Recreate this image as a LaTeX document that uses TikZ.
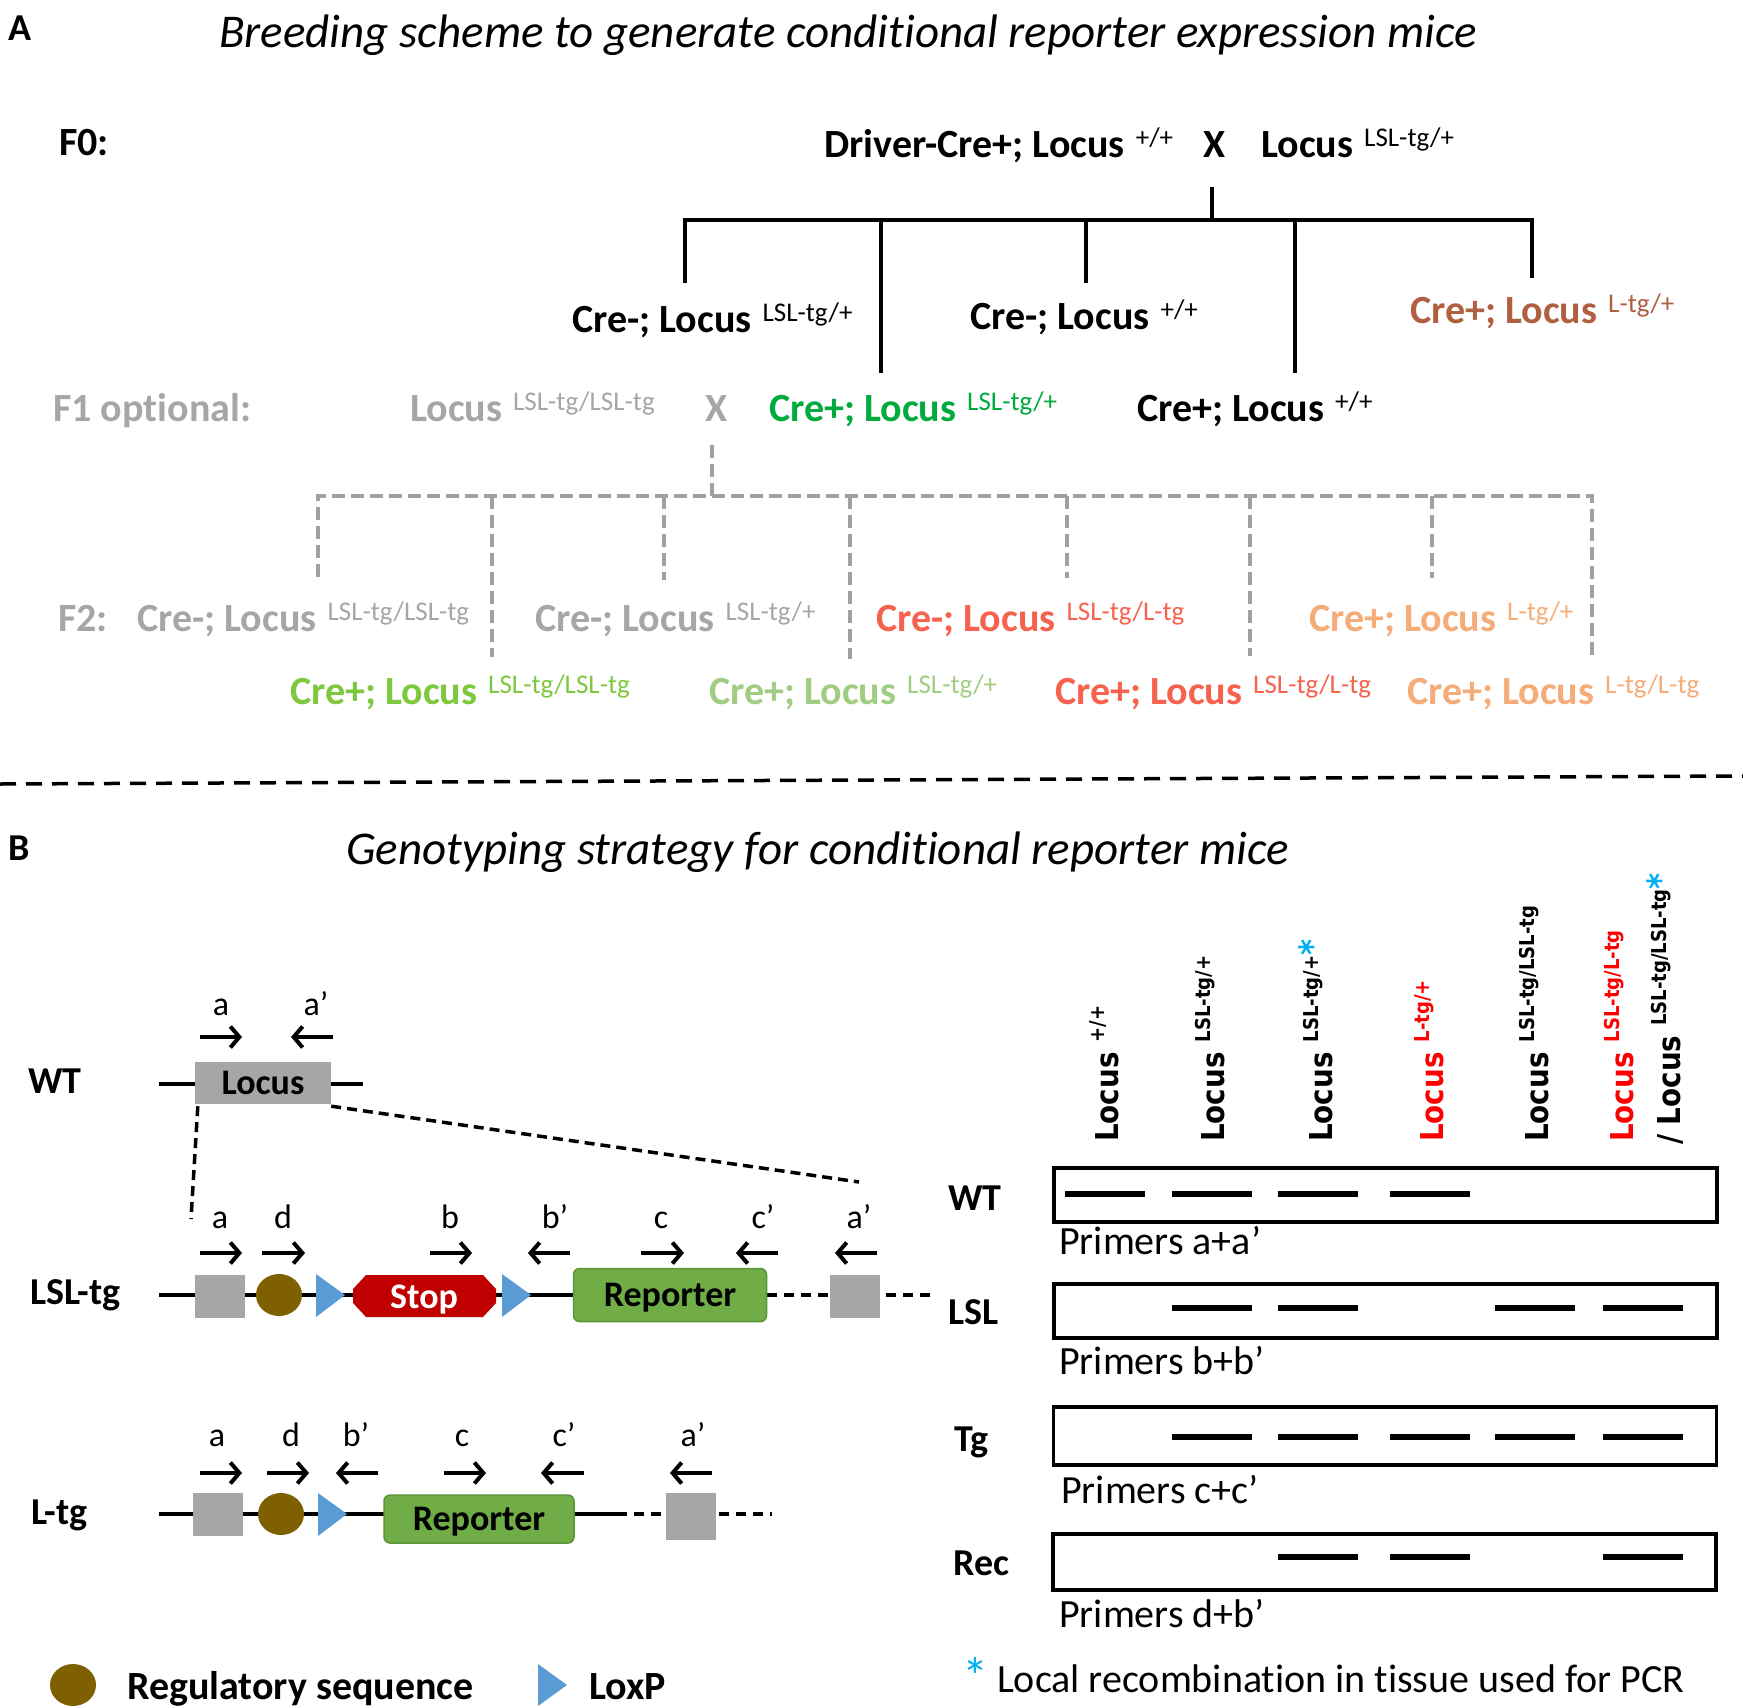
\documentclass[tikz,border=0pt]{standalone}
\usepackage{fontspec}
\setmainfont{Carlito}[Ligatures=NoCommon]
\newfontfamily\dvs{DejaVu Sans}[FakeStretch=0.88]
\usetikzlibrary{arrows.meta,shapes.geometric}
\definecolor{gtxt}{RGB}{166,166,166}
\definecolor{grn}{RGB}{0,170,60}
\definecolor{brn}{RGB}{176,96,64}
\definecolor{lime}{RGB}{125,200,60}
\definecolor{pgrn}{RGB}{160,205,130}
\definecolor{salm}{RGB}{246,98,78}
\definecolor{lorg}{RGB}{246,172,120}
\definecolor{gline}{RGB}{160,160,160}
\definecolor{loxb}{RGB}{91,155,213}
\definecolor{regb}{RGB}{127,96,0}
\definecolor{stopr}{RGB}{192,0,0}
\definecolor{repg}{RGB}{112,173,71}
\definecolor{repd}{RGB}{90,150,55}
\definecolor{boxg}{RGB}{166,166,166}
\definecolor{astb}{RGB}{0,176,240}
\newcommand{\gen}[2]{#1\hspace{11pt}\raisebox{11pt}{\fontsize{27}{30}\selectfont\mdseries #2}}
\newcommand{\vgen}[2]{#1\hspace{10pt}\raisebox{14pt}{\fontsize{20.5}{24}\selectfont #2}}
\newcommand{\bast}{\textcolor{astb}{\raisebox{-6pt}{\scalebox{1.7}{*}}}}
\begin{document}
\begin{tikzpicture}[x=1pt,y=-1pt,
  gl/.style={anchor=base west, inner sep=0pt, font=\fontsize{40}{48}\selectfont\bfseries},
  ttl/.style={anchor=base west, inner sep=0pt, font=\fontsize{47}{54}\selectfont\itshape},
  treeline/.style={line width=4pt},
  dtreeline/.style={line width=4pt, draw=gline, dash pattern=on 13pt off 6pt},
  sepline/.style={line width=3.5pt, dash pattern=on 16pt off 10pt},
  dnaline/.style={line width=4.5pt},
  dnadash/.style={line width=4.5pt, dash pattern=on 10pt off 7pt},
  zoomdash/.style={line width=3.5pt, dash pattern=on 10pt off 6pt},
  primer/.style={line width=4pt, -{Straight Barb[length=9pt,width=21pt]}},
  plab/.style={anchor=base, inner sep=0pt, font=\fontsize{34}{40}\selectfont},
  gbox/.style={draw, line width=3.5pt, inner sep=0pt, minimum width=663pt, minimum height=54pt},
  bandline/.style={line width=6pt},
  vl/.style={rotate=90, anchor=base west, inner sep=0pt, font=\dvs\bfseries\fontsize{31.5}{36}\selectfont},
  rl/.style={anchor=base west, inner sep=0pt, font=\fontsize{38}{44}\selectfont\bfseries},
  prl/.style={anchor=base west, inner sep=0pt, font=\fontsize{40}{46}\selectfont},
  gsq/.style={fill=boxg, inner sep=0pt, minimum width=50pt, minimum height=43pt},
  regs/.style={ellipse, fill=regb, inner sep=0pt, minimum width=46pt, minimum height=42pt},
  rep/.style={draw=repd, fill=repg, line width=1.5pt, rounded corners=6pt, inner sep=0pt, text height=23pt, text depth=0pt, font=\fontsize{36}{40}\selectfont\bfseries},
]
\useasboundingbox (0,0) rectangle (1743,1708);
\fill[white] (0,0) rectangle (1743,1708);

% ---------------- Part A ----------------
\node[gl, font=\fontsize{38}{44}\selectfont\bfseries] (lA) at (8,40) {A};
\node[ttl] (tA) at (219,47) {Breeding scheme to generate conditional reporter expression mice};

\node[gl] (f0) at (59,155) {F0:};
\node[gl] (p1) at (824,157) {\gen{Driver-Cre+; Locus}{+/+}};
\node[gl] (x0) at (1203,157) {X};
\node[gl] (p2) at (1261,157) {\gen{Locus}{LSL-tg/+}};

\coordinate (t0) at (1212,187);
\coordinate (j0) at (1212,220);
\coordinate (hL) at (685,220);
\coordinate (hR) at (1532,220);
\coordinate (d1) at (685,283);
\coordinate (d2) at (881,373);
\coordinate (d3) at (1086,283);
\coordinate (d4) at (1295,373);
\coordinate (d5) at (1532,278);
\draw[treeline] (t0) -- (j0);
\draw[treeline] (d1) -- (hL) -- (hR) -- (d5);
\draw[treeline] (881,220) -- (d2);
\draw[treeline] (1086,220) -- (d3);
\draw[treeline] (1295,220) -- (d4);

\node[gl] (g1) at (572,332) {\gen{Cre-; Locus}{LSL-tg/+}};
\node[gl] (g2) at (970,329) {\gen{Cre-; Locus}{+/+}};
\node[gl, text=brn] (g3) at (1410,323) {\gen{Cre+; Locus}{L-tg/+}};

\node[gl, text=gtxt] (f1) at (53,421) {F1 optional:};
\node[gl, text=gtxt] (q1) at (410,421) {\gen{Locus}{LSL-tg/LSL-tg}};
\node[gl, text=gtxt] (x1) at (705,421) {X};
\node[gl, text=grn] (q2) at (769,421) {\gen{Cre+; Locus}{LSL-tg/+}};
\node[gl] (q3) at (1137,421) {\gen{Cre+; Locus}{+/+}};

\coordinate (t1) at (712,445);
\coordinate (j1) at (712,496);
\coordinate (kL) at (318,496);
\coordinate (kR) at (1592,496);
\draw[dtreeline] (t1) -- (j1);
\draw[dtreeline] (318,577) -- (kL) -- (kR) -- (1592,656);
\draw[dtreeline] (492,496) -- (492,657);
\draw[dtreeline] (664,496) -- (664,580);
\draw[dtreeline] (850,496) -- (850,659);
\draw[dtreeline] (1067,496) -- (1067,578);
\draw[dtreeline] (1250,496) -- (1250,656);
\draw[dtreeline] (1432,496) -- (1432,578);

\node[gl, text=gtxt] (f2) at (58,631) {F2:};
\node[gl, text=gtxt] (r1) at (137,631) {\gen{Cre-; Locus}{LSL-tg/LSL-tg}};
\node[gl, text=gtxt] (r2) at (535,631) {\gen{Cre-; Locus}{LSL-tg/+}};
\node[gl, text=salm] (r3) at (876,631) {\gen{Cre-; Locus}{LSL-tg/L-tg}};
\node[gl, text=lorg] (r4) at (1309,631) {\gen{Cre+; Locus}{L-tg/+}};
\node[gl, text=lime] (s1) at (290,704) {\gen{Cre+; Locus}{LSL-tg/LSL-tg}};
\node[gl, text=pgrn] (s2) at (709,704) {\gen{Cre+; Locus}{LSL-tg/+}};
\node[gl, text=salm] (s3) at (1055,704) {\gen{Cre+; Locus}{LSL-tg/L-tg}};
\node[gl, text=lorg] (s4) at (1407,704) {\gen{Cre+; Locus}{L-tg/L-tg}};

\draw[sepline] (0,784) -- (1743,776);

% ---------------- Part B ----------------
\node[gl, font=\fontsize{38}{44}\selectfont\bfseries] (lB) at (8,860) {B};
\node[ttl] (tB) at (346,864) {Genotyping strategy for conditional reporter mice};

% WT allele
\node[rl] (wtl) at (28,1093) {WT};
\draw[dnaline] (159,1084) -- (363,1084);
\node[fill=boxg, inner sep=0pt, minimum width=136pt, minimum height=42pt, text height=23pt, text depth=0pt, font=\fontsize{36}{40}\selectfont\bfseries] (locwt) at (263,1083) {Locus};
\node[plab] (wa) at (221,1015) {a};
\node[plab] (wa2) at (316,1015) {a’};
\draw[primer] (200,1037) -- (242,1037);
\draw[primer] (333,1037) -- (291,1037);

\coordinate (zl) at (191,1219);
\coordinate (zr) at (859,1182);
\draw[zoomdash] (locwt.south west) ++(3,2) -- (zl);
\draw[zoomdash] (locwt.south east) ++(0,2) -- (zr);

% LSL-tg allele
\node[rl] (lsll) at (30,1304) {LSL-tg};
\draw[dnaline] (159,1295) -- (767,1295);
\draw[dnadash] (767,1295) -- (937,1295);
\node[gsq] (sq1) at (220,1296) {};
\node[regs] (rg1) at (279,1295) {};
\fill[loxb] (316,1274) -- (345,1295) -- (316,1317) -- cycle;
\fill[stopr] (366,1275) -- (483,1275) -- (496,1289) -- (496,1303) -- (483,1317) -- (366,1317) -- (353,1303) -- (353,1289) -- cycle;
\node[text=white, inner sep=0pt, text height=23pt, text depth=0pt, font=\fontsize{36}{40}\selectfont\bfseries] (stop) at (424,1297) {Stop};
\fill[loxb] (502,1274) -- (531,1295) -- (502,1317) -- cycle;
\node[rep, minimum width=193pt, minimum height=53pt] (rep1) at (670,1295) {Reporter};
\node[gsq] (sq2) at (855,1296) {};

\node[plab] (la) at (220,1228) {a};
\node[plab] (ld) at (283,1228) {d};
\node[plab] (lb) at (450,1228) {b};
\node[plab] (lb2) at (555,1228) {b’};
\node[plab] (lc) at (661,1228) {c};
\node[plab] (lc2) at (763,1228) {c’};
\node[plab] (la2) at (859,1228) {a’};
\draw[primer] (200,1253) -- (242,1253);
\draw[primer] (262,1253) -- (305,1253);
\draw[primer] (430,1253) -- (472,1253);
\draw[primer] (570,1253) -- (528,1253);
\draw[primer] (641,1253) -- (684,1253);
\draw[primer] (778,1253) -- (736,1253);
\draw[primer] (877,1253) -- (835,1253);

% L-tg allele
\node[rl] (ltgl) at (31,1524) {L-tg};
\draw[dnaline] (159,1514) -- (617,1514);
\draw[dnadash] (617,1514) -- (772,1514);
\node[gsq] (sq3) at (218,1514) {};
\node[regs] (rg2) at (281,1514) {};
\fill[loxb] (318,1493) -- (347,1514) -- (318,1536) -- cycle;
\node[rep, minimum width=190pt, minimum height=48pt] (rep2) at (479,1519) {Reporter};
\node[gsq, minimum height=47pt] (sq4) at (691,1516) {};

\node[plab] (ma) at (217,1446) {a};
\node[plab] (md) at (291,1446) {d};
\node[plab] (mb2) at (356,1446) {b’};
\node[plab] (mc) at (462,1446) {c};
\node[plab] (mc2) at (564,1446) {c’};
\node[plab] (ma2) at (693,1446) {a’};
\draw[primer] (200,1473) -- (242,1473);
\draw[primer] (267,1473) -- (309,1473);
\draw[primer] (378,1473) -- (336,1473);
\draw[primer] (444,1473) -- (486,1473);
\draw[primer] (584,1473) -- (541,1473);
\draw[primer] (712,1473) -- (670,1473);

% legend
\node[regs] (lgr) at (73,1685) {};
\node[gl] (lgrt) at (127,1699) {Regulatory sequence};
\fill[loxb] (538,1664) -- (567,1685) -- (538,1706) -- cycle;
\node[gl] (lglt) at (589,1699) {LoxP};

% gel column labels
\node[vl] (c1) at (1118,1142) {\vgen{Locus}{+/+}};
\node[vl] (c2) at (1224,1142) {\vgen{Locus}{LSL-tg/+}};
\node[vl] (c3) at (1332,1142) {\vgen{Locus}{LSL-tg/+\bast}};
\node[vl, text=red] (c4) at (1443,1142) {\vgen{Locus}{L-tg/+}};
\node[vl] (c5) at (1548,1142) {\vgen{Locus}{LSL-tg/LSL-tg}};
\node[vl, text=red] (c6) at (1633,1142) {\vgen{Locus}{LSL-tg/L-tg}};
\node[vl] (c7) at (1680,1145) {\vgen{/ Locus}{LSL-tg/LSL-tg\bast}};

% gels
\node[gbox] (gwt) at (1385.5,1195) {};
\node[gbox] (glsl) at (1385.5,1311) {};
\node[gbox, minimum height=58pt] (gtg) at (1385,1436) {};
\node[gbox, minimum height=56pt] (grec) at (1384.5,1562) {};

\node[rl] (rwt) at (948,1210) {WT};
\node[rl] (rlsl) at (948,1324) {LSL};
\node[rl] (rtg) at (954,1451) {Tg};
\node[rl] (rrec) at (953,1575) {Rec};

\foreach \x in {1105,1212,1318,1430} \draw[bandline] (\x-40,1194) -- (\x+40,1194);
\foreach \x in {1212,1318,1535,1643} \draw[bandline] (\x-40,1308) -- (\x+40,1308);
\foreach \x in {1212,1318,1430,1535,1643} \draw[bandline] (\x-40,1437) -- (\x+40,1437);
\foreach \x in {1318,1430,1643} \draw[bandline] (\x-40,1557) -- (\x+40,1557);

\node[prl] (pa) at (1059,1254) {Primers a+a’};
\node[prl] (pb) at (1059,1374) {Primers b+b’};
\node[prl] (pc) at (1061,1503) {Primers c+c’};
\node[prl] (pd) at (1059,1627) {Primers d+b’};

\node[prl] (fn) at (962,1692) {\textcolor{astb}{\raisebox{-2pt}{\scalebox{1.3}{*}}} Local recombination in tissue used for PCR};
\end{tikzpicture}
\end{document}
